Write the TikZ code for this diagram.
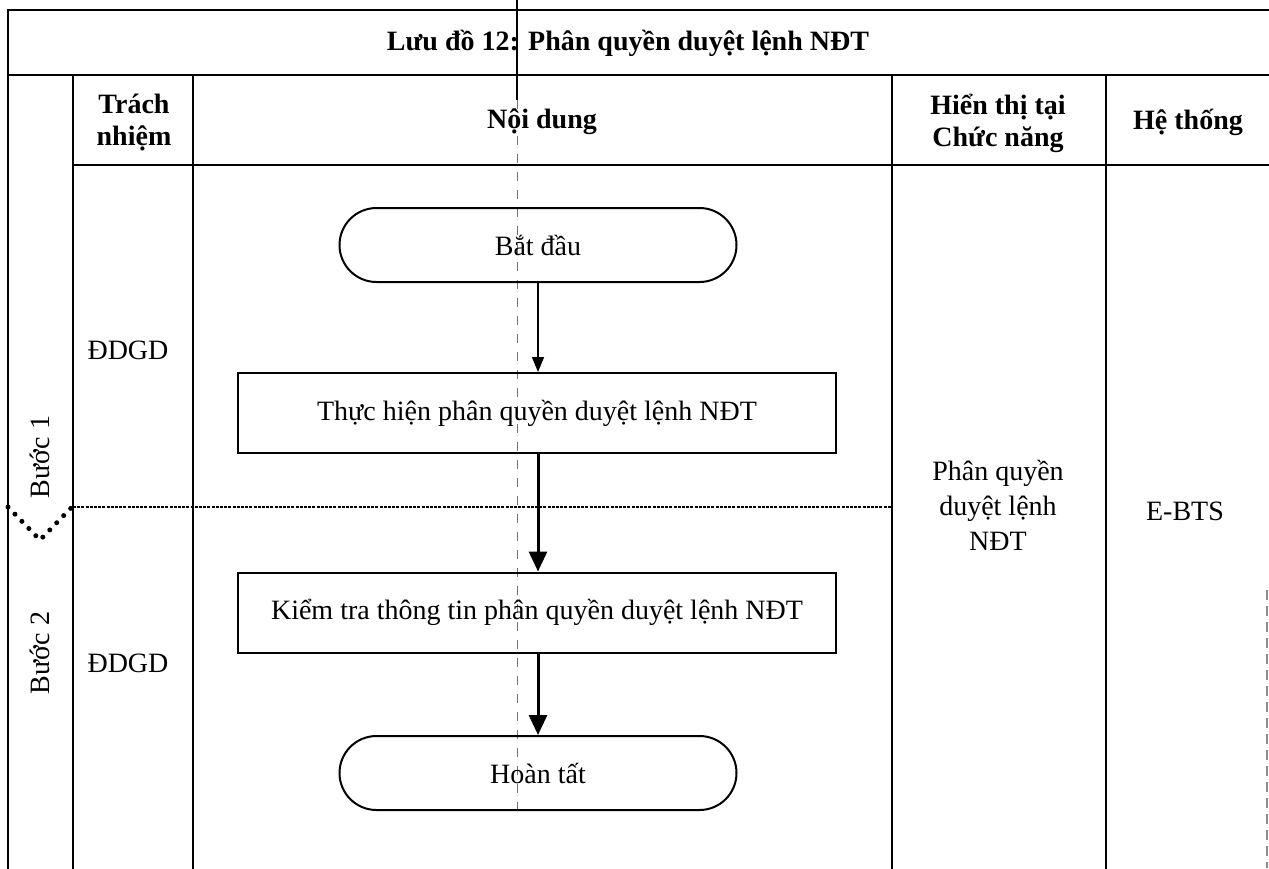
\documentclass[tikz,border=0pt]{standalone}
\usepackage{fontspec}
\setmainfont{Liberation Serif}
\usetikzlibrary{arrows.meta,shapes.misc}

\tikzset{
  rule/.style={line width=2pt, line cap=rect},
  head/.style={font=\fontsize{28}{32}\selectfont\bfseries, align=center, inner sep=0pt},
  body/.style={font=\fontsize{28}{35}\selectfont, align=center, inner sep=0pt},
  term/.style={draw, line width=2pt, rounded rectangle, minimum width=397pt,
               minimum height=74pt, font=\fontsize{28}{32}\selectfont, inner sep=0pt},
  proc/.style={draw, line width=2pt, rectangle, minimum width=598pt,
               minimum height=80pt, font=\fontsize{28}{32}\selectfont, inner sep=0pt},
  thinflow/.style={line width=1.5pt, -{Triangle[length=15pt,width=12pt]}},
  thickflow/.style={line width=3pt, -{Triangle[length=20pt,width=18pt]}},
  stepsep/.style={line width=2.5pt, dash pattern=on 3pt off 1.2pt},
  stepmark/.style={line width=5pt, dash pattern=on 0pt off 10pt, line cap=round},
}

\begin{document}
\begin{tikzpicture}[x=1pt, y=-1pt]
\useasboundingbox (0,0) rectangle (1269,868);
\fill[white] (0,0) rectangle (1269,868);

% table frame
\draw[rule] (8,10) -- (1269,10);
\draw[rule] (8,75) -- (1269,75);
\draw[rule] (73,165) -- (1269,165);
\draw[rule] (8,10) -- (8,868);
\draw[rule] (73,75) -- (73,868);
\draw[rule] (193,75) -- (193,868);
\draw[rule] (892,75) -- (892,868);
\draw[rule] (1106,75) -- (1106,868);
\draw[line width=1.2pt, black!45, dash pattern=on 10pt off 6pt] (1267,590) -- (1267,868);

% fold line across the sheet
\draw[line width=1.8pt] (517,0) -- (517,100);
\draw[line width=0.8pt, black!55, dash pattern=on 9pt off 9pt] (517,100) -- (517,810);

% split between the two steps
\draw[stepsep] (73,507) -- (892,507);
\draw[stepmark] (8,507) -- (40,540) -- (72,507);

% headings
\node[head] (title) at (628,43) {Lưu đồ 12: Phân quyền duyệt lệnh NĐT};
\node[head] (resp) at (134,123) {Trách\\nhiệm};
\node[head] (content) at (542,122) {Nội dung};
\node[head] (shown) at (998,123) {Hiển thị tại\\Chức năng};
\node[head] (system) at (1188,122) {Hệ thống};

% left column
\node[body, rotate=90] (step1) at (40,457) {Bước 1};
\node[body, rotate=90] (step2) at (40,653) {Bước 2};
\node[body] (who1) at (128,350) {ĐDGD};
\node[body] (who2) at (128,663) {ĐDGD};

% right columns
\node[body] (func) at (998,505) {Phân quyền\\duyệt lệnh\\NĐT};
\node[body] (sys) at (1185,511) {E-BTS};

% flow
\node[term] (start) at (538,245) {Bắt đầu};
\node[proc] (do) at (537,413) {Thực hiện phân quyền duyệt lệnh NĐT};
\node[proc] (check) at (537,612.5) {Kiểm tra thông tin phân quyền duyệt lệnh NĐT};
\node[term] (finish) at (538,773) {Hoàn tất};

\draw[thinflow] (start.south) -- (start.south |- do.north);
\draw[thickflow] (start.south |- do.south) -- (start.south |- check.north);
\draw[thickflow] (start.south |- check.south) -- (finish.north);
\end{tikzpicture}
\end{document}
